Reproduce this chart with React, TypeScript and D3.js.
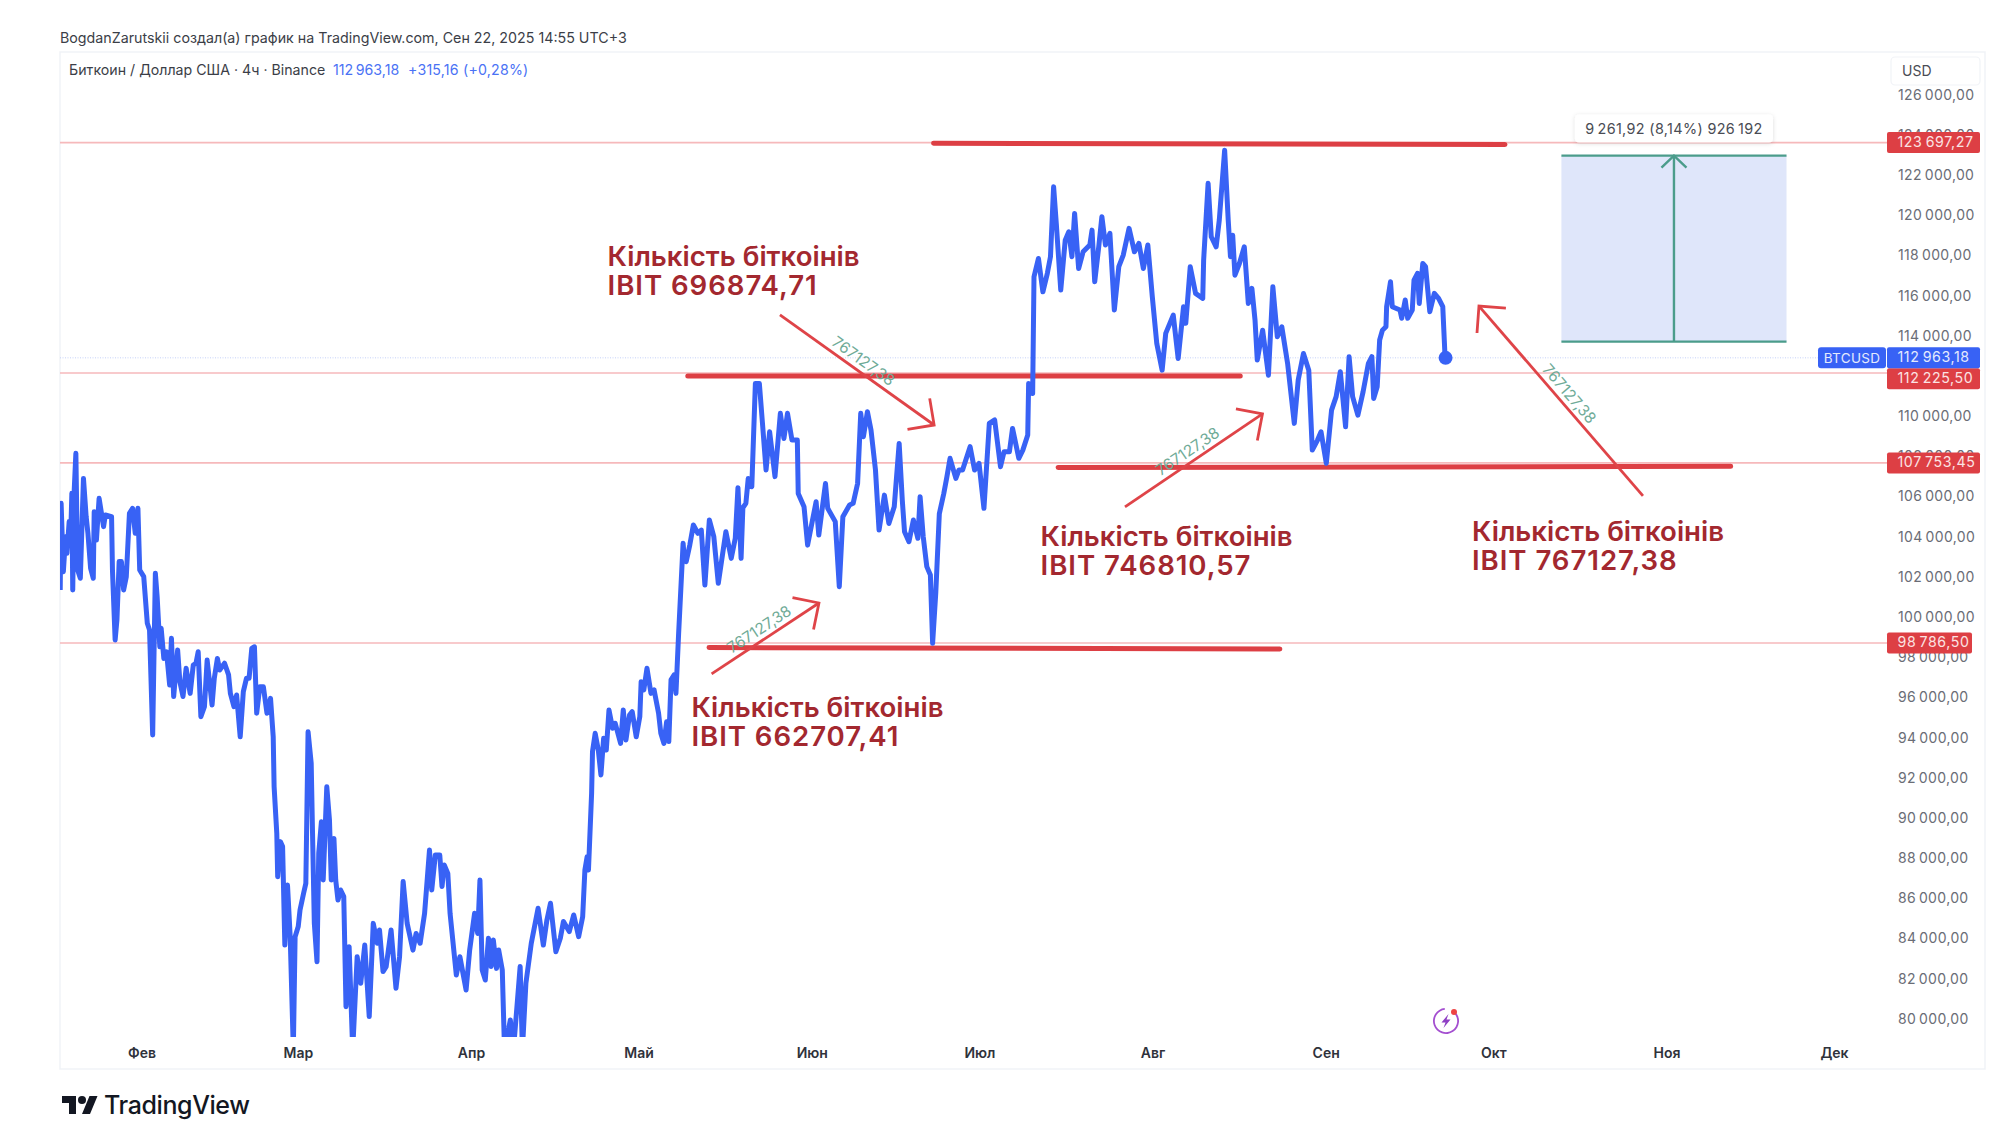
import React, { useEffect, useRef } from 'react';
import * as d3 from 'd3';

// [days since 1 Feb 2025, close in thousands of USD]
const closesJan = [[-14.55,101.41],[-14.39,105.72],[-13.99,102.32],[-13.59,104.06],[-13.35,103.23],[-12.95,104.81],[-12.71,103.73],[-12.47,106.22],[-12.31,101.41],[-12.07,106.22],[-11.75,108.21],[-11.43,102.4],[-10.95,101.99],[-10.39,106.96],[-9.91,105.06],[-9.59,104.23],[-9.11,102.48],[-8.63,101.99],[-8.47,105.3],[-8.07,103.89],[-7.59,105.97],[-6.79,104.56],[-6.47,105.14],[-5.36,105.06],[-5.2,102.4],[-4.72,98.92],[-4.4,99.91],[-4,102.82],[-3.6,102.82],[-3.2,101.41],[-2.72,102.07],[-2.16,105.22],[-1.6,105.47],[-1.12,104.23],[-0.64,105.47],[-0.32,102.4]];
const closesFeb = [[0.4,102.07],[1.04,99.75],[1.44,99.41],[2,94.19],[2.48,102.24],[2.8,101.07],[3.28,98.58],[3.52,99.5],[4,98],[4.48,98.33],[5.04,96.68],[5.36,99],[5.76,96.1],[6.47,98.42],[6.87,96.84],[7.43,96.1],[7.99,97.51],[8.71,96.26],[9.27,97.67],[9.75,97.76],[10.15,98.33],[10.63,95.1],[11.27,95.6],[11.75,97.92],[12.63,95.68],[13.03,97.01],[13.59,98],[13.99,97.42],[14.87,97.76],[15.59,97.18],[15.91,96.26],[16.55,95.6],[17.03,96.18],[17.67,94.1],[18.23,96.35],[18.79,97.01],[19.26,97.01],[19.74,98.5],[20.22,98.58],[20.62,95.27],[21.18,96.59],[21.82,96.59],[22.46,95.27],[23.1,96.01],[23.58,94.1],[23.74,91.62],[24.22,89.29],[24.38,87.13],[24.86,88.88],[25.26,88.63],[25.66,83.73],[26.14,86.72],[26.62,84.15],[27.18,78.5],[27.5,84.15]];
const closesMar = [[28.06,84.65],[28.38,85.48],[29.02,86.31],[29.42,86.8],[29.82,94.35],[30.38,92.78],[30.62,89.29],[30.94,84.81],[31.42,82.9],[31.73,88.3],[32.21,89.87],[32.53,86.97],[33.17,91.61],[33.65,89.96],[33.97,86.97],[34.45,89.04],[34.77,86.97],[35.17,85.97],[35.65,86.47],[36.21,86.14],[36.61,80.66],[37.17,83.65],[37.81,78.5],[38.61,83.15],[39.25,81.83],[39.97,83.73],[40.77,80.17],[41.49,84.81],[42.21,83.82],[42.61,84.48],[43.24,82.41],[43.8,82.66],[44.68,84.48],[45.56,81.58],[46.2,83.15],[46.84,86.89],[47.56,84.81],[48.6,83.48],[49.16,84.31],[49.88,83.82],[50.68,85.31],[51.56,88.46],[51.96,86.47],[52.6,88.21],[53.4,88.21],[53.8,86.64],[54.2,87.72],[54.84,87.3],[55.24,85.31],[56.36,82.24],[57,83.15],[58.11,81.49],[58.75,83.48]];
const closesApr = [[59.63,85.31],[60.19,84.31],[60.59,86.97],[60.99,82.49],[61.55,81.99],[62.11,84.07],[62.59,82.66],[62.99,83.98],[63.55,82.57],[63.95,83.48],[64.59,82.49],[64.99,78.5],[66.03,80],[66.59,78.5],[67.79,82.66],[68.19,78.5],[68.82,81.83],[69.78,83.82],[71,85.56],[71.94,83.73],[72.58,84.98],[73.22,85.81],[74.18,83.4],[74.98,84.07],[75.54,84.9],[76.58,84.4],[77.38,85.23],[78.26,84.15],[78.98,85.14],[79.38,87.47],[79.78,88.13],[80.02,87.47],[80.58,91.28],[80.74,93.36],[81.22,94.27],[81.78,93.44],[82.25,92.2],[82.73,94.02],[83.21,93.44],[83.69,95.43],[84.33,94.52],[84.81,94.77],[85.77,93.77],[86.25,95.43],[86.73,93.94],[87.37,95.18],[87.85,95.35],[88.57,94.1]];
const closesMay = [[89.21,95.1],[89.45,96.84],[89.93,96.43],[90.49,97.51],[91.21,96.26],[91.77,96.43],[92.57,95.27],[92.97,94.27],[93.53,93.77],[94.01,94.85],[94.4,93.86],[94.8,96.93],[95.36,97.18],[95.68,96.26],[96.16,99.25],[96.96,103.73],[97.12,103.15],[97.52,102.82],[98.16,103.65],[98.8,104.64],[99.6,104.23],[100.22,104.39],[100.86,101.65],[101.66,104.89],[102.46,104.06],[103.26,101.74],[104.62,104.31],[105.58,102.98],[106.3,103.98],[106.78,106.5],[107.34,102.98],[107.66,105.5],[108.2,105.72],[108.62,106.96],[109.26,106.55],[109.9,111.69],[110.61,111.69],[111.17,109.7],[111.81,107.38],[112.45,109.28],[113.41,107.05],[114.37,110.2],[115.01,108.95],[115.65,110.2],[116.45,108.87],[117.41,108.87],[117.57,106.21],[118.61,105.55],[119.25,103.64]];
const closesJun = [[120.77,105.8],[121.25,104.14],[122.45,106.71],[122.85,105.47],[124.2,104.81],[124.92,101.57],[125.56,105.05],[126.76,105.64],[127.4,105.72],[128.2,106.71],[128.76,110.2],[129.24,109.04],[129.96,110.28],[130.6,109.37],[131.4,107.38],[132.04,104.39],[133,106.13],[133.8,104.72],[134.76,105.55],[135.64,108.7],[136.2,105.88],[136.6,104.31],[137.39,103.81],[138.19,104.89],[138.99,103.98],[139.39,106.05],[139.95,104.06],[140.59,102.57],[141.23,102.15],[141.63,98.75],[142.19,101.24],[142.83,105.2],[143.63,106.21],[144.19,107.04],[144.75,107.96],[145.79,106.96],[146.35,107.38],[146.99,107.38],[148.34,108.54],[149.14,107.38]];
const closesJul = [[149.94,107.71],[150.82,105.47],[151.78,109.7],[152.74,109.87],[153.78,107.54],[154.42,108.29],[155.38,108.29],[155.94,109.45],[157.06,107.96],[157.78,108.37],[158.66,109.12],[158.82,111.69],[159.54,111.19],[159.78,117],[160.58,117.91],[161.37,116.25],[162.17,117.17],[162.73,118],[163.29,121.48],[163.77,119.65],[164.57,116.34],[165.37,118.82],[166.01,119.24],[166.57,118],[167.05,120.15],[167.77,117.41],[168.57,118.24],[169.77,118.58],[170.17,119.32],[170.65,116.75],[171.37,118.49],[171.93,119.99],[172.57,118.58],[173.37,119.16],[174.16,115.34],[174.96,117.5],[175.76,118.08],[176.8,119.41],[177.76,118.24],[178.56,118.66],[179.36,117.41],[180.16,118.58],[180.96,116]];
const closesAug = [[181.76,113.68],[182.72,112.35],[183.36,114.18],[184.71,115.09],[185.59,112.93],[186.55,115.51],[186.95,114.68],[187.75,117.5],[188.71,116.17],[189.99,115.92],[190.15,117.83],[190.95,121.65],[191.51,118.99],[192.39,118.49],[192.95,119.82],[193.91,123.3],[194.55,119.82],[194.95,118],[195.35,119.07],[195.75,117.08],[196.55,117.66],[197.43,118.49],[198.15,115.67],[198.79,116.42],[199.35,114.84],[199.75,112.85],[200.71,114.34],[201.75,112.1],[202.54,116.5],[203.34,114.01],[204.14,114.51],[205.18,112.69],[206.38,109.7],[207.08,111.86],[208.02,113.18],[208.97,112.35],[209.6,108.37],[210.54,108.87],[211.17,109.28]];
const closesSep = [[212.11,107.71],[213.05,110.36],[213.87,111.03],[214.62,112.27],[215.56,109.53],[216.19,113.02],[216.82,111.03],[217.76,110.11],[218.7,111.28],[219.65,112.69],[220.27,113.02],[220.59,110.94],[221.22,111.52],[221.66,113.85],[222.16,114.34],[222.79,114.51],[222.91,115.51],[223.6,116.75],[223.92,115.51],[225.3,115.34],[225.61,114.93],[226.24,115.84],[226.68,114.93],[227.5,115.34],[227.81,116.83],[228.44,117.17],[228.75,115.67],[229.38,117.66],[229.88,117.5],[230.64,115.26],[231.45,116.17],[232.21,115.92],[232.96,115.51],[233.34,113.18],[233.46,112.963]];

const priceTicks = d3.range(80000, 126001, 2000);
const monthLabels = ['Фев', 'Мар', 'Апр', 'Май', 'Июн', 'Июл', 'Авг', 'Сен', 'Окт', 'Ноя', 'Дек'];
const redLevels = [123697.27, 112225.5, 107753.45, 98786.5];
const lastPrice = 112963.18;

// hand drawn support / resistance: startDay, endDay, startPrice, endPrice
const drawnLevels = [
  [141.8, 244.1, 123640, 123580],
  [97.8, 196.7, 112060, 112060],
  [164.1, 284.5, 107500, 107560],
  [101.6, 203.8, 98540, 98470],
];
// arrows: fromDay, fromPrice, toDay, toPrice
const drawnArrows = [
  [114.3, 115100, 141.9, 109620],
  [176.07, 105540, 200.68, 110170],
  [102.06, 97230, 121.28, 100760],
  [268.8, 106090, 239.44, 115540],
];
const arrowLabel = '767127,38';
// notes: day, baseline price, amount
const notes = [
  [83.44, 117530, '696874,71'],
  [160.96, 103600, '746810,57'],
  [98.45, 95080, '662707,41'],
  [238.2, 103850, '767127,38'],
];
const measure = { startDay: 254.2, endDay: 294.5, low: 113770, high: 123030, label: '9\u2009261,92 (8,14%) 926\u2009192' };

const RED = '#dd3f44';
const BLUE = '#3862f5';
const GREEN = '#4b9c8b';
const FONT = 'Inter, sans-serif';

const priceLocale = d3.formatLocale({ decimal: ',', thousands: '\u2009', grouping: [3], currency: ['', ''] });
const fmtPrice = priceLocale.format(',.2f');

const App: React.FC = () => {
  const svgRef = useRef<SVGSVGElement>(null);

  useEffect(() => {
    if (!svgRef.current) return;
    const svg = d3.select(svgRef.current);
    svg.selectAll('*').remove();

    const feb1 = Date.UTC(2025, 1, 1);
    const toDate = (day: number) => new Date(feb1 + day * 86400000);
    const x = d3.scaleUtc()
      .domain([new Date(Date.UTC(2025, 1, 1)), new Date(Date.UTC(2025, 11, 1))])
      .range([141.5, 1834]);
    const y = d3.scaleLinear().domain([80000, 122000]).range([1020, 176.3]);
    const xd = (day: number) => x(toDate(day));

    const paneLeft = 60, paneRight = 1985, paneTop = 52, paneBottom = 1069, plotBottom = 1037;
    const scaleLeft = 1887, scaleText = 1898;

    svg.append('defs').append('clipPath').attr('id', 'plot')
      .append('rect').attr('x', paneLeft).attr('y', paneTop).attr('width', scaleLeft - paneLeft).attr('height', plotBottom - paneTop);
    const shadow = svg.select('defs').append('filter').attr('id', 'tipShadow').attr('x', '-10%').attr('y', '-30%').attr('width', '120%').attr('height', '170%');
    shadow.append('feDropShadow').attr('dx', 0).attr('dy', 1).attr('stdDeviation', 2).attr('flood-color', '#000').attr('flood-opacity', 0.14);

    // pane frame
    svg.append('rect').attr('x', paneLeft).attr('y', paneTop).attr('width', paneRight - paneLeft).attr('height', paneBottom - paneTop)
      .attr('fill', '#fff').attr('stroke', '#f1f3f7').attr('stroke-width', 1.5);

    // header
    svg.append('text').attr('x', 60).attr('y', 43).attr('font-size', 14.25).attr('fill', '#3b3e47').text('BogdanZarutskii создал(а) график на TradingView.com, Сен 22, 2025 14:55 UTC+3');
    const legend = svg.append('text').attr('x', 69).attr('y', 75).attr('font-size', 14.2).attr('fill', '#3b3e47');
    legend.append('tspan').text('Биткоин / Доллар США · 4ч · Binance');
    legend.append('tspan').attr('x', 333).attr('fill', '#4a72f5').text(`112\u2009963,18`);
    legend.append('tspan').attr('x', 408).attr('letter-spacing', 0.2).attr('fill', '#4a72f5').text('+315,16 (+0,28%)');

    // horizontal levels
    svg.append('g').selectAll('line').data(redLevels).enter().append('line')
      .attr('x1', paneLeft).attr('x2', scaleLeft)
      .attr('y1', d => y(d) + 0.4).attr('y2', d => y(d) + 0.4)
      .attr('stroke', '#f6b9bb').attr('stroke-width', 1.6);
    svg.append('line').attr('x1', paneLeft).attr('x2', 1818).attr('y1', y(lastPrice)).attr('y2', y(lastPrice))
      .attr('stroke', '#c5d1f8').attr('stroke-width', 1).attr('stroke-dasharray', '1 1.5');

    // measure tool
    const mx0 = xd(measure.startDay), mx1 = xd(measure.endDay), my0 = y(measure.high), my1 = y(measure.low);
    const mxc = (mx0 + mx1) / 2;
    svg.append('rect').attr('x', mx0).attr('y', my0).attr('width', mx1 - mx0).attr('height', my1 - my0).attr('fill', '#dfe6fa');
    const measureG = svg.append('g').attr('stroke', GREEN).attr('stroke-width', 2.4).attr('fill', 'none');
    [my0, my1].forEach(v => measureG.append('line').attr('x1', mx0).attr('x2', mx1).attr('y1', v).attr('y2', v));
    measureG.append('line').attr('x1', mxc).attr('x2', mxc).attr('y1', my1).attr('y2', my0);
    measureG.append('path').attr('d', d3.line()([[mxc - 12.5, my0 + 12], [mxc, my0], [mxc + 12.5, my0 + 12]]));
    svg.append('rect').attr('x', mxc - 99).attr('y', my0 - 41).attr('width', 198).attr('height', 28).attr('rx', 4)
      .attr('fill', '#fff').attr('filter', 'url(#tipShadow)');
    svg.append('text').attr('x', mxc).attr('y', my0 - 22).attr('text-anchor', 'middle').attr('font-size', 14.4).attr('letter-spacing', 0.35).attr('fill', '#4a4c54').text(measure.label);

    // drawn red lines
    svg.append('g').selectAll('line').data(drawnLevels).enter().append('line')
      .attr('x1', d => xd(d[0])).attr('x2', d => xd(d[1]))
      .attr('y1', d => y(d[2])).attr('y2', d => y(d[3]))
      .attr('stroke', RED).attr('stroke-width', 5).attr('stroke-linecap', 'round');

    // price line
    const allCloses = [...closesJan, ...closesFeb, ...closesMar, ...closesApr, ...closesMay, ...closesJun, ...closesJul, ...closesAug, ...closesSep];
    const priceLine = d3.line<number[]>().x(d => xd(d[0])).y(d => y(d[1] * 1000)).curve(d3.curveLinear);
    svg.append('path').datum(allCloses).attr('clip-path', 'url(#plot)')
      .attr('d', priceLine).attr('fill', 'none').attr('stroke', BLUE).attr('stroke-width', 5).attr('stroke-linejoin', 'round');
    const lastPoint = allCloses[allCloses.length - 1];
    svg.append('circle').attr('cx', xd(lastPoint[0])).attr('cy', y(lastPoint[1] * 1000)).attr('r', 7).attr('fill', BLUE);

    // arrows with rotated amount
    drawnArrows.forEach(([d0, p0, d1, p1]) => {
      const ax = xd(d0), ay = y(p0), bx = xd(d1), by = y(p1);
      const ang = Math.atan2(ay - by, ax - bx);
      const arm = 27;
      const g = svg.append('g').attr('fill', 'none').attr('stroke', '#df4448').attr('stroke-width', 2.8);
      g.append('line').attr('x1', ax).attr('y1', ay).attr('x2', bx).attr('y2', by);
      g.append('path').attr('d', d3.line()([
        [bx + arm * Math.cos(ang + Math.PI / 4), by + arm * Math.sin(ang + Math.PI / 4)],
        [bx, by],
        [bx + arm * Math.cos(ang - Math.PI / 4), by + arm * Math.sin(ang - Math.PI / 4)],
      ]));
      let deg = Math.atan2(by - ay, bx - ax);
      if (deg > Math.PI / 2) deg -= Math.PI;
      if (deg < -Math.PI / 2) deg += Math.PI;
      const tx = (ax + bx) / 2 + 11 * Math.sin(deg), ty = (ay + by) / 2 - 11 * Math.cos(deg);
      svg.append('text').attr('transform', `translate(${tx},${ty}) rotate(${deg * 180 / Math.PI})`)
        .attr('text-anchor', 'middle').attr('dy', '0.35em').attr('font-size', 15.5).attr('fill', '#6fab97').text(arrowLabel);
    });

    // notes
    notes.forEach(([day, price, amount]) => {
      const noteX = xd(day as number);
      const noteY = y(price as number);
      const g = svg.append('g').attr('font-size', 27.6).attr('font-weight', 600).attr('fill', '#a3282f');
      g.append('text').attr('x', noteX).attr('y', noteY).text('Кількість біткоінів');
      g.append('text').attr('x', noteX).attr('y', noteY + 29).attr('letter-spacing', 0.95).text(`IBIT ${amount}`);
    });

    // time axis
    const monthDates = d3.range(1, 12).map(m => new Date(Date.UTC(2025, m, 1)));
    const xAxis = svg.append('g').attr('transform', 'translate(0,1039)')
      .call(d3.axisBottom(x).tickValues(monthDates).tickSize(0).tickFormat((_, i) => monthLabels[i]));
    xAxis.select('.domain').remove();
    xAxis.selectAll('text').attr('font-size', 14).attr('font-family', FONT).attr('font-weight', 600).attr('fill', '#2f323b').attr('dy', '0.71em').attr('y', 9);

    // price axis, labels start at the same x whatever their length
    const yAxis = svg.append('g').attr('transform', `translate(${scaleText},-1.2)`)
      .call(d3.axisRight(y).tickValues(priceTicks).tickSize(0).tickFormat(d => fmtPrice(d as number)));
    yAxis.select('.domain').remove();
    yAxis.selectAll('text').attr('font-size', 14).attr('font-family', FONT).attr('fill', '#6a6d76').attr('x', 0).attr('letter-spacing', 0.35);

    // currency box covers top of 126 000
    svg.append('rect').attr('x', 1888).attr('y', 53).attr('width', 95).attr('height', 36).attr('fill', '#fff');
    svg.append('rect').attr('x', 1891).attr('y', 57).attr('width', 89).attr('height', 28).attr('rx', 4).attr('fill', '#fff').attr('stroke', '#f1f3f7').attr('stroke-width', 1.2);
    svg.append('text').attr('x', 1902).attr('y', 76).attr('font-size', 14).attr('fill', '#4a4c54').text('USD');

    // price tags
    const tagH = 21;
    const tagWidth = (v: number) => (v >= 100000 ? 93 : 85);
    redLevels.forEach((level, i) => {
      const cy = i === 1 ? y(lastPrice) + 21 : y(level) + 0.4;
      svg.append('rect').attr('x', scaleLeft).attr('y', cy - tagH / 2).attr('width', tagWidth(level)).attr('height', tagH).attr('rx', 2).attr('fill', RED);
      svg.append('text').attr('x', scaleText - 0.5).attr('y', cy - 0.5).attr('dy', '0.35em').attr('font-size', 14.2).attr('letter-spacing', 0.6).attr('fill', '#fbe3e3').text(fmtPrice(level));
    });
    const lastY = y(lastPrice);
    svg.append('rect').attr('x', 1818).attr('y', lastY - tagH / 2).attr('width', 68).attr('height', tagH).attr('rx', 3).attr('fill', BLUE);
    svg.append('text').attr('x', 1852).attr('y', lastY).attr('dy', '0.35em').attr('text-anchor', 'middle').attr('font-size', 13.5).attr('letter-spacing', 0.3).attr('fill', '#e4eafd').text('BTCUSD');
    svg.append('rect').attr('x', scaleLeft).attr('y', lastY - tagH / 2).attr('width', tagWidth(lastPrice)).attr('height', tagH).attr('rx', 2).attr('fill', BLUE);
    svg.append('text').attr('x', scaleText - 0.5).attr('y', lastY - 0.5).attr('dy', '0.35em').attr('font-size', 14.2).attr('letter-spacing', 0.6).attr('fill', '#e4eafd').text(fmtPrice(lastPrice));

    // lightning icon
    const icon = svg.append('g').attr('transform', 'translate(1446,1021)');
    const ring = d3.arc()({ innerRadius: 11.2, outerRadius: 13, startAngle: 0.75, endAngle: 2 * Math.PI - 0.1 } as any);
    icon.append('path').attr('d', ring).attr('fill', '#a44fd0');
    icon.append('path').attr('d', 'M2.5 -7 L-4.5 1.5 L-0.5 1.5 L-2.5 7 L4.5 -1.5 L0.5 -1.5 Z').attr('fill', '#8e3fc4');
    icon.append('circle').attr('cx', 8).attr('cy', -9).attr('r', 3).attr('fill', '#ee4444');

    // logo
    const logo = svg.append('g').attr('transform', 'translate(62,1092)').attr('fill', '#131722');
    logo.append('path').attr('d', 'M14 22H7V11H0V4h14v18zM28 22h-8l7.5-18h8L28 22z');
    logo.append('circle').attr('cx', 20).attr('cy', 8).attr('r', 4);
    svg.append('text').attr('x', 104).attr('y', 1114).attr('font-size', 25).attr('font-weight', 500).attr('letter-spacing', -0.4).attr('fill', '#131722').text('TradingView');
  }, []);

  return (
    <svg ref={svgRef} width={2000} height={1146} viewBox="0 0 2000 1146"
      style={{ position: 'absolute', left: 0, top: 0, background: '#fff', fontFamily: FONT }} />
  );
};

export default App;
